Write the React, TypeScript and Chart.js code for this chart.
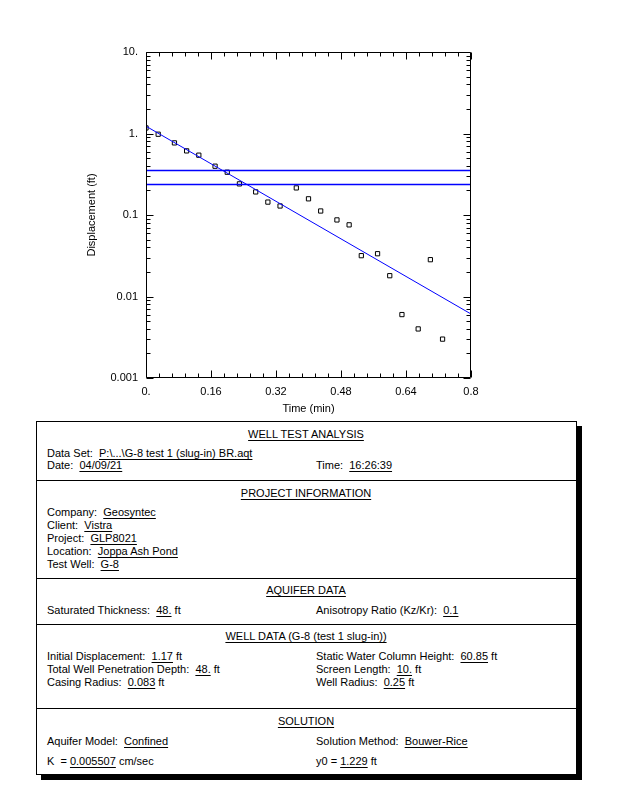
import React, { useEffect, useRef } from "react";
import { Chart, registerables } from "chart.js";

Chart.register(...registerables);

// ---- data ----
const timeMin = [0, 0.03, 0.07, 0.1, 0.13, 0.17, 0.2, 0.23, 0.27, 0.3, 0.33, 0.37, 0.4, 0.43, 0.47, 0.5, 0.53, 0.57, 0.6, 0.63, 0.67, 0.7, 0.73];
const displacementFt = [1.17, 0.98, 0.767, 0.612, 0.542, 0.397, 0.335, 0.241, 0.192, 0.144, 0.129, 0.215, 0.158, 0.112, 0.087, 0.0757, 0.0317, 0.0335, 0.018, 0.006, 0.004, 0.0283, 0.003];
const fitTimes = [0, 0.8];
const fitDisp = [1.229, 0.0061];
const upperLevel = [0.352, 0.352];
const lowerLevel = [0.237, 0.237];
const levelTimes = [0, 0.8];

const xTickValues = [0, 0.16, 0.32, 0.48, 0.64, 0.8];
const xTickLabels = ["0.", "0.16", "0.32", "0.48", "0.64", "0.8"];
const yTickValues = [0.001, 0.01, 0.1, 1, 10];
const yTickLabels = ["0.001", "0.01", "0.1", "1.", "10."];

const FONT = '"Liberation Sans", Arial, Helvetica, sans-serif';

const tickPlugin = {
  id: "insideTicks",
  afterDatasetsDraw(chart: any) {
    const { ctx, chartArea } = chart;
    const { left, right, top, bottom } = chartArea;
    const xs = chart.scales.x;
    const ys = chart.scales.y;
    ctx.save();
    ctx.strokeStyle = "#000";
    ctx.lineWidth = 1;
    const L = Math.round(left) + 0.5;
    const R = Math.round(right) - 0.5;
    const T = Math.round(top) + 0.5;
    const B = Math.round(bottom) - 0.5;
    ctx.beginPath();
    ctx.rect(L, T, R - L, B - T);
    ctx.stroke();
    ctx.beginPath();
    const nx = 25;
    for (let i = 0; i <= nx; i++) {
      const v = (0.8 * i) / nx;
      const px = Math.round(xs.getPixelForValue(v)) + 0.5;
      const len = i % 5 === 0 ? 7 : 4;
      ctx.moveTo(px, B);
      ctx.lineTo(px, B - len);
      ctx.moveTo(px, T);
      ctx.lineTo(px, T + len);
    }
    for (let d = -3; d <= 1; d++) {
      for (let m = 1; m <= 9; m++) {
        const v = m * Math.pow(10, d);
        if (v > 10.0001) break;
        const py = Math.round(ys.getPixelForValue(v)) + 0.5;
        const len = m === 1 ? 7 : 4;
        ctx.moveTo(L, py);
        ctx.lineTo(L + len, py);
        ctx.moveTo(R, py);
        ctx.lineTo(R - len, py);
      }
    }
    ctx.stroke();
    ctx.restore();
  },
};

function ChartBlock() {
  const ref = useRef<HTMLCanvasElement | null>(null);
  useEffect(() => {
    if (!ref.current) return;
    const chart = new Chart(ref.current, {
      type: "scatter",
      data: {
        datasets: [
          {
            label: "fit",
            data: fitTimes.map((t, i) => ({ x: t, y: fitDisp[i] })),
            showLine: true,
            borderColor: "#0000ff",
            borderWidth: 1,
            pointRadius: 0,
            clip: 0,
          } as any,
          {
            label: "upper",
            data: levelTimes.map((t, i) => ({ x: t, y: upperLevel[i] })),
            showLine: true,
            borderColor: "#0000ff",
            borderWidth: 1.5,
            pointRadius: 0,
            clip: 0,
          } as any,
          {
            label: "lower",
            data: levelTimes.map((t, i) => ({ x: t, y: lowerLevel[i] })),
            showLine: true,
            borderColor: "#0000ff",
            borderWidth: 1.5,
            pointRadius: 0,
            clip: 0,
          } as any,
          {
            label: "observed",
            data: timeMin.map((t, i) => ({ x: t, y: displacementFt[i] })),
            pointStyle: "rect",
            pointRadius: 3,
            borderColor: "#000",
            borderWidth: 1,
            backgroundColor: "rgba(0,0,0,0)",
            clip: 0,
          } as any,
        ],
      },
      options: {
        animation: false,
        responsive: false,
        devicePixelRatio: 1,
        events: [],
        layout: { padding: { left: 81, top: 52, right: 147, bottom: 0 } },
        plugins: { legend: { display: false }, tooltip: { enabled: false } },
        scales: {
          x: {
            type: "linear",
            min: 0,
            max: 0.8,
            grid: { display: false, drawTicks: false },
            border: { display: false },
            afterBuildTicks: (s: any) => {
              s.ticks = xTickValues.map((v) => ({ value: v }));
            },
            afterFit: (s: any) => {
              s.height = 42;
            },
            ticks: {
              padding: 7,
              color: "#000",
              font: { family: FONT, size: 11 },
              maxRotation: 0,
              autoSkip: false,
              callback: (_v: any, i: number) => xTickLabels[i],
            },
            title: {
              display: true,
              text: "Time (min)",
              color: "#000",
              font: { family: FONT, size: 11 },
              padding: { top: 0, bottom: 4 },
            },
          },
          y: {
            type: "logarithmic",
            min: 0.001,
            max: 10,
            grid: { display: false, drawTicks: false },
            border: { display: false },
            afterBuildTicks: (s: any) => {
              s.ticks = yTickValues.map((v) => ({ value: v }));
            },
            afterFit: (s: any) => {
              s.width = 65;
            },
            ticks: {
              padding: 8,
              color: "#000",
              font: { family: FONT, size: 11 },
              autoSkip: false,
              callback: (_v: any, i: number) => yTickLabels[i],
            },
            title: {
              display: true,
              text: "Displacement (ft)",
              color: "#000",
              font: { family: FONT, size: 11 },
              padding: { top: 4, bottom: 0 },
            },
          },
        },
      },
      plugins: [tickPlugin],
    } as any);
    return () => chart.destroy();
  }, []);
  return (
    <canvas
      ref={ref}
      width={618}
      height={420}
      style={{ position: "absolute", left: 0, top: 0, width: 618, height: 420 }}
    />
  );
}

const textStyle: React.CSSProperties = {
  position: "absolute",
  fontFamily: FONT,
  fontSize: 11,
  lineHeight: "13px",
  whiteSpace: "pre",
  color: "#000",
};

function T({ x, y, label, value, unit }: { x: number; y: number; label: string; value: string; unit?: string }) {
  return (
    <div style={{ ...textStyle, left: x, top: y - 7 }}>
      {label}
      <span style={{ textDecoration: "underline", textUnderlineOffset: 2 }}>{value}</span>
      {unit ? unit : ""}
    </div>
  );
}

function H({ y, text }: { y: number; text: string }) {
  return (
    <div
      style={{
        ...textStyle,
        left: 36,
        width: 540,
        textAlign: "center",
        top: y - 7,
      }}
    >
      <span style={{ textDecoration: "underline", textUnderlineOffset: 2 }}>{text}</span>
    </div>
  );
}

function Sep({ y }: { y: number }) {
  return <div style={{ position: "absolute", left: 36, width: 540, top: y, height: 1, background: "#000" }} />;
}

function InfoTable() {
  const L = 47;
  const R = 316;
  return (
    <>
      <div
        style={{
          position: "absolute",
          left: 36,
          top: 421,
          width: 539,
          height: 352,
          border: "1px solid #000",
          boxShadow: "5px 5px 0 #000",
          background: "#fff",
        }}
      />
      <H y={435} text="WELL TEST ANALYSIS" />
      <T x={L} y={454} label="Data Set:  " value="P:\...\G-8 test 1 (slug-in) BR.aqt" />
      <T x={L} y={466} label="Date:  " value="04/09/21" />
      <T x={R} y={466} label="Time:  " value="16:26:39" />
      <Sep y={480} />
      <H y={494} text="PROJECT INFORMATION" />
      <T x={L} y={513} label="Company:  " value="Geosyntec" />
      <T x={L} y={526} label="Client:  " value="Vistra" />
      <T x={L} y={539} label="Project:  " value="GLP8021" />
      <T x={L} y={552} label="Location:  " value="Joppa Ash Pond" />
      <T x={L} y={565} label="Test Well:  " value="G-8" />
      <Sep y={578} />
      <H y={591} text="AQUIFER DATA" />
      <T x={L} y={611} label="Saturated Thickness:  " value="48." unit=" ft" />
      <T x={R} y={611} label="Anisotropy Ratio (Kz/Kr):  " value="0.1" />
      <Sep y={624} />
      <H y={637} text="WELL DATA (G-8 (test 1 slug-in))" />
      <T x={L} y={657} label="Initial Displacement:  " value="1.17" unit=" ft" />
      <T x={R} y={657} label="Static Water Column Height:  " value="60.85" unit=" ft" />
      <T x={L} y={670} label="Total Well Penetration Depth:  " value="48." unit=" ft" />
      <T x={R} y={670} label="Screen Length:  " value="10." unit=" ft" />
      <T x={L} y={683} label="Casing Radius:  " value="0.083" unit=" ft" />
      <T x={R} y={683} label="Well Radius:  " value="0.25" unit=" ft" />
      <Sep y={708} />
      <H y={722} text="SOLUTION" />
      <T x={L} y={742} label="Aquifer Model:  " value="Confined" />
      <T x={R} y={742} label="Solution Method:  " value="Bouwer-Rice" />
      <T x={L} y={762} label="K  = " value="0.005507" unit=" cm/sec" />
      <T x={R} y={762} label="y0 = " value="1.229" unit=" ft" />
    </>
  );
}

export default function App() {
  return (
    <div style={{ position: "absolute", left: 0, top: 0, width: 618, height: 800, background: "#fff" }}>
      <ChartBlock />
      <InfoTable />
    </div>
  );
}
